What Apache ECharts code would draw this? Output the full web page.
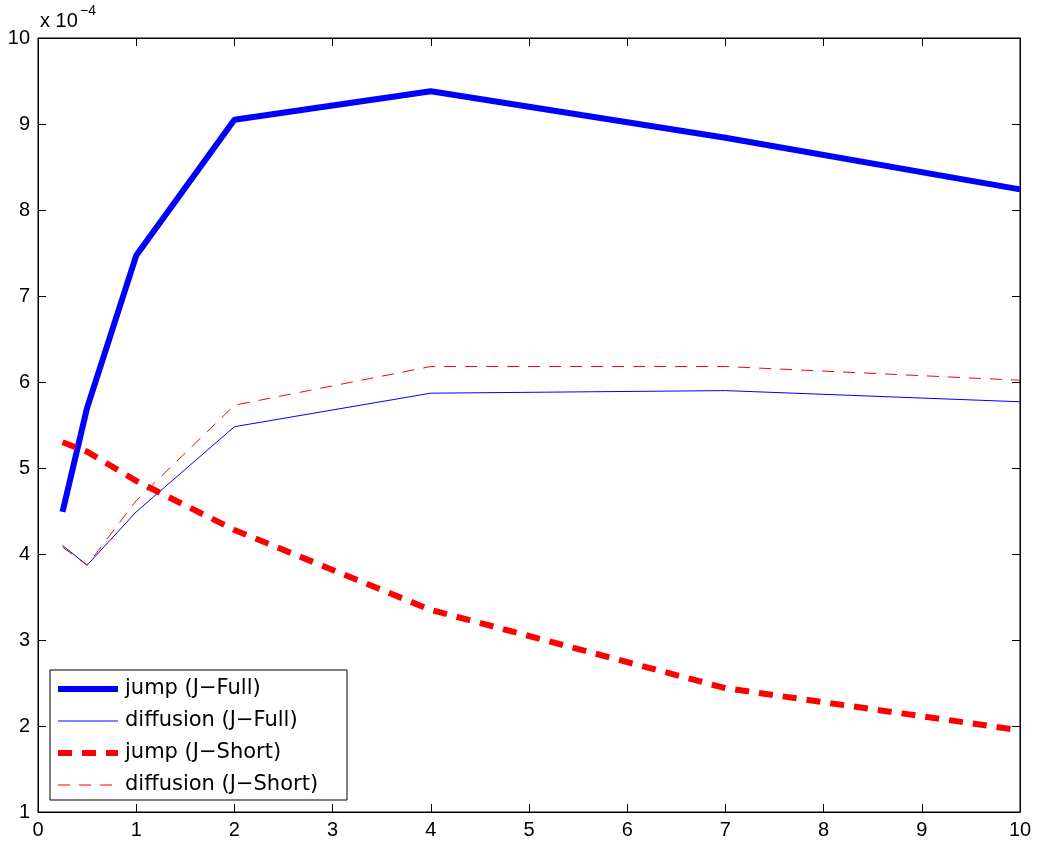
<!DOCTYPE html>
<html>
<head>
<meta charset="utf-8">
<script src="https://cdn.jsdelivr.net/npm/echarts@6/dist/echarts.min.js"></script>
<style>html,body{margin:0;background:#fff}#c{width:1041px;height:847px}</style>
</head>
<body>
<div id="c"></div>
<script>
// 数据（单位 1e-4）
var xs = [0.25, 0.5, 1, 2, 4, 7, 10];
var jumpFull = [4.49, 5.70, 7.47, 9.05, 9.38, 8.84, 8.24];
var diffFull = [4.10, 3.87, 4.49, 5.48, 5.87, 5.90, 5.77];
var jumpShort = [5.30, 5.19, 4.85, 4.28, 3.35, 2.44, 1.95];
var diffShort = [4.08, 3.87, 4.62, 5.73, 6.18, 6.18, 6.02];
var names = ['jump (J\u2212Full)', 'diffusion (J\u2212Full)', 'jump (J\u2212Short)', 'diffusion (J\u2212Short)'];

function pairs(ys) {
    return xs.map((x, i) => [x, ys[i]]);
}
var font = 'Liberation Sans, Arial, sans-serif';
var legendFont = '21px DejaVu Sans, sans-serif';
var chart = echarts.init(document.getElementById('c'));
var styles = [
    { color: '#0000ff', width: 6, type: 'solid' },
    { color: '#0000ff', width: 1, type: 'solid' },
    { color: '#ff0000', width: 6, type: [14, 10] },
    { color: '#ff0000', width: 1, type: [12, 9] }
];
var all = [jumpFull, diffFull, jumpShort, diffShort];
var series = all.map((d, i) => ({
    name: names[i],
    type: 'line',
    data: pairs(d),
    showSymbol: false,
    symbol: 'none',
    lineStyle: styles[i],
    itemStyle: { color: styles[i].color },
    animation: false
}));
function axis(type, min, max, pos, label) {
    return {
        type: 'value', min: min, max: max, interval: 1, position: pos,
        axisLine: { onZero: false, lineStyle: { color: '#000' } },
        axisTick: { inside: true, length: 8, lineStyle: { color: '#000' } },
        axisLabel: { show: label, color: '#000', fontSize: 20, fontFamily: font },
        splitLine: { show: false }
    };
}
// 图例（手绘样例线）
var legendGraphics = [
    { type: 'rect', shape: { x: 50, y: 670, width: 297, height: 130 }, style: { fill: '#fff', stroke: '#000', lineWidth: 1 }, z: 10 }
];
names.forEach((n, i) => {
    var y = 689 + i * 32;
    legendGraphics.push({ type: 'line', shape: { x1: 58, y1: y, x2: 118, y2: y }, style: { stroke: styles[i].color, lineWidth: styles[i].width, lineDash: styles[i].type === 'solid' ? null : styles[i].type }, z: 11 });
    legendGraphics.push({ type: 'text', x: 125, y: y, style: { text: n, font: legendFont, fill: '#000', verticalAlign: 'middle' }, z: 11 });
});
chart.setOption({
    backgroundColor: '#fff',
    grid: { left: 38, right: 21, top: 38, bottom: 35, show: true, borderColor: '#000', borderWidth: 1 },
    xAxis: [axis('x', 0, 10, 'bottom', true), axis('x', 0, 10, 'top', false)],
    yAxis: [axis('y', 1, 10, 'left', true), axis('y', 1, 10, 'right', false)],
    graphic: [
        { type: 'text', left: 40, top: 11, style: { text: 'x 10', font: '20px ' + font, fill: '#000' } },
        { type: 'text', left: 80, top: 4, style: { text: '\u22124', font: '14px ' + font, fill: '#000' } }
    ].concat(legendGraphics),
    series: series
});
</script>
</body>
</html>
